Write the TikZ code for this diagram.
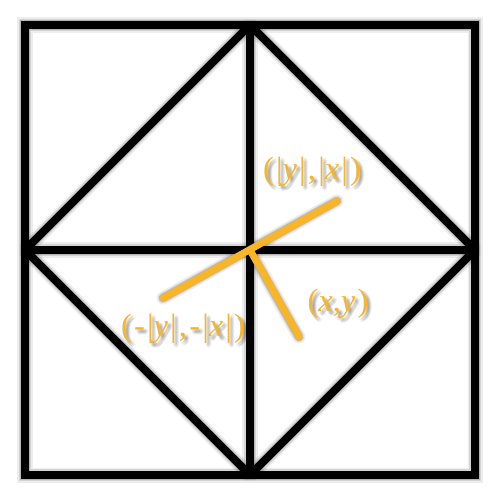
\documentclass[tikz,border=0pt]{standalone}
\usepackage{fontspec}
\setmainfont{Liberation Serif}
\newfontfamily\labfont[LetterSpace=7]{Liberation Serif}
\definecolor{gold}{RGB}{247,181,39}
\newcommand\gridpaths[1]{%
  \draw[#1, line join=miter] (A) rectangle (C);
  \draw[#1] (T) -- (R) -- (B) -- (L) -- cycle;
  \draw[#1] (T) -- (B);
  \draw[#1] (L) -- (R);}
\newcommand\orangepaths[1]{%
  \draw[#1] (Q) -- (P);
  \draw[#1] (O) -- (S);}
\newcommand\labeltext[3]{%
  \foreach \dx/\dy in {2/2,4/4,3/3,2/4,4/2,3/5,5/3,1/3,3/1}{%
    \node[labsh] at ([shift={(\dx,\dy)}]#1) {#3};}
  \node[lab] (#2) at (#1) {#3};}
\begin{document}
\begin{tikzpicture}[x=0.01cm,y=-0.01cm,
  blk/.style={draw=black, line width=0.08cm, line join=bevel},
  shA/.style={draw=black, opacity=0.07, line width=0.15cm, line join=bevel, shift={(3,3)}},
  shB/.style={draw=black, opacity=0.10, line width=0.12cm, line join=bevel, shift={(3,3)}},
  shC/.style={draw=black, opacity=0.15, line width=0.09cm, line join=bevel, shift={(3,3)}},
  org/.style={draw=gold, line width=0.07cm, line cap=round},
  orgshA/.style={draw=black, opacity=0.07, line width=0.13cm, line cap=round, shift={(3,3)}},
  orgshB/.style={draw=black, opacity=0.10, line width=0.10cm, line cap=round, shift={(3,3)}},
  orgshC/.style={draw=black, opacity=0.15, line width=0.08cm, line cap=round, shift={(3,3)}},
  lab/.style={text=gold, font=\labfont\fontsize{9.2}{11}\selectfont, inner sep=0pt},
  labsh/.style={text=black, text opacity=0.05, font=\labfont\fontsize{9.2}{11}\selectfont, inner sep=0pt}]
\useasboundingbox (0,0) rectangle (500,500);
\fill[white] (0,0) rectangle (500,500);
\coordinate (A) at (25,25);
\coordinate (C) at (475,475);
\coordinate (T) at (250,25);
\coordinate (R) at (475,250);
\coordinate (B) at (250,475);
\coordinate (L) at (25,250);
\coordinate (O) at (250,250);
\coordinate (P) at (337,201);
\coordinate (Q) at (163,298);
\coordinate (S) at (299,337);
\coordinate (t1) at (312,172);
\coordinate (t2) at (183,329);
\coordinate (t3) at (338,304);
\gridpaths{shA}
\gridpaths{shB}
\gridpaths{shC}
\gridpaths{blk}
\orangepaths{orgshA}
\orangepaths{orgshB}
\orangepaths{orgshC}
\orangepaths{org}
\labeltext{t1}{l1}{(|\textit{y}|,|\textit{x}|)}
\labeltext{t2}{l2}{(-|\textit{y}|,-|\textit{x}|)}
\labeltext{t3}{l3}{(\textit{x},\textit{y})}
\end{tikzpicture}
\end{document}
